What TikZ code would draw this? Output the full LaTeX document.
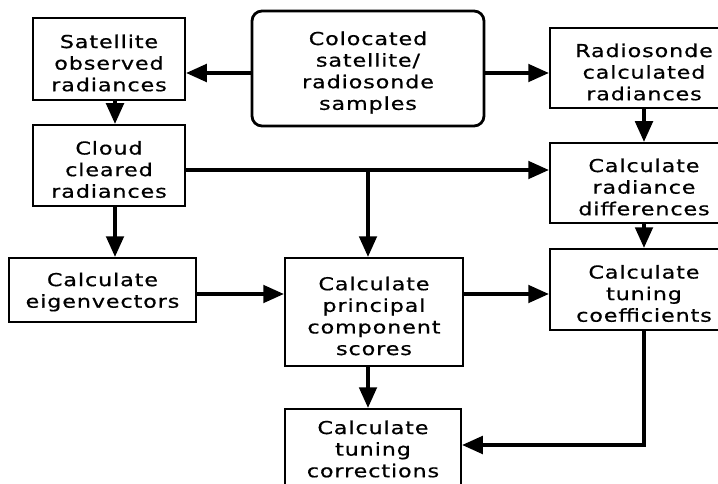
\documentclass[tikz,border=0pt]{standalone}
\usepackage{fontspec}
\usetikzlibrary{arrows.meta}
\newfontfamily\boxfont{DejaVu Sans}[FakeStretch=1.25, LetterSpace=5, FakeBold=0.7]
\begin{document}
\begin{tikzpicture}[x=1pt, y=-1pt,
  txt/.style={align=center, inner sep=0pt, yshift=-4pt,
    font=\boxfont\fontsize{17.8}{21.6}\selectfont, text=black},
  box/.style={draw, line width=1.5pt, inner sep=0pt},
  rbox/.style={box, line width=2.8pt, rounded corners=10pt},
  arr/.style={line width=4.7pt, -{Triangle[length=21pt, width=17pt]}}]
\useasboundingbox (0,0) rectangle (718,484);
\clip (0,0) rectangle (718,484);

% process boxes, each with its caption set at the centre
\node[box, minimum width=152pt, minimum height=82pt,
  label={[txt]center:{Satellite\\observed\\radiances}}] (sat) at (109,59) {};
\node[rbox, minimum width=232pt, minimum height=115pt,
  label={[txt]center:{Colocated\\satellite/\\radiosonde\\samples}}] (colo) at (368,68.5) {};
\node[box, minimum width=188pt, minimum height=80pt,
  label={[txt]center:{Radiosonde\\calculated\\radiances}}] (radio) at (644,68) {};
\node[box, minimum width=152pt, minimum height=81pt,
  label={[txt]center:{Cloud\\cleared\\radiances}}] (cloud) at (109,165.5) {};
\node[box, minimum width=188pt, minimum height=80pt,
  label={[txt]center:{Calculate\\radiance\\differences}}] (diff) at (644,183) {};
\node[box, minimum width=187pt, minimum height=64pt,
  label={[txt, yshift=2pt]center:{Calculate\\eigenvectors}}] (eig) at (102.5,290) {};
\node[box, minimum width=178pt, minimum height=108pt,
  label={[txt]center:{Calculate\\principal\\component\\scores}}] (pcs) at (374,312) {};
\node[box, minimum width=188pt, minimum height=81pt,
  label={[txt]center:{Calculate\\tuning\\coefficients}}] (coef) at (644,289.5) {};
\node[box, minimum width=176pt, minimum height=82pt,
  label={[txt, yshift=5pt]center:{Calculate\\tuning\\corrections}}] (corr) at (373,450) {};

% branch point and corner
\coordinate (j) at (368,170);
\coordinate (k) at (644,445);

% connectors
\draw[arr] (colo.west |- 0,73) -- (sat.east |- 0,73);
\draw[arr] (colo.east |- 0,73) -- (radio.west |- 0,73);
\draw[arr] (sat.south -| 115,0) -- (cloud.north -| 115,0);
\draw[arr] (cloud.east |- 0,170) -- (diff.west |- 0,170);
\draw[arr] (j) -- (pcs.north -| j);
\draw[arr] (cloud.south -| 115,0) -- (eig.north -| 115,0);
\draw[arr] (eig.east |- 0,294) -- (pcs.west |- 0,294);
\draw[arr] (pcs.east |- 0,294) -- (coef.west |- 0,294);
\draw[arr] (radio.south) -- (diff.north);
\draw[arr] (diff.south) -- (coef.north);
\draw[arr] (pcs.south -| j) -- (corr.north -| j);
\draw[arr] (coef.south) -- (k) -- (corr.east |- k);
\end{tikzpicture}
\end{document}
